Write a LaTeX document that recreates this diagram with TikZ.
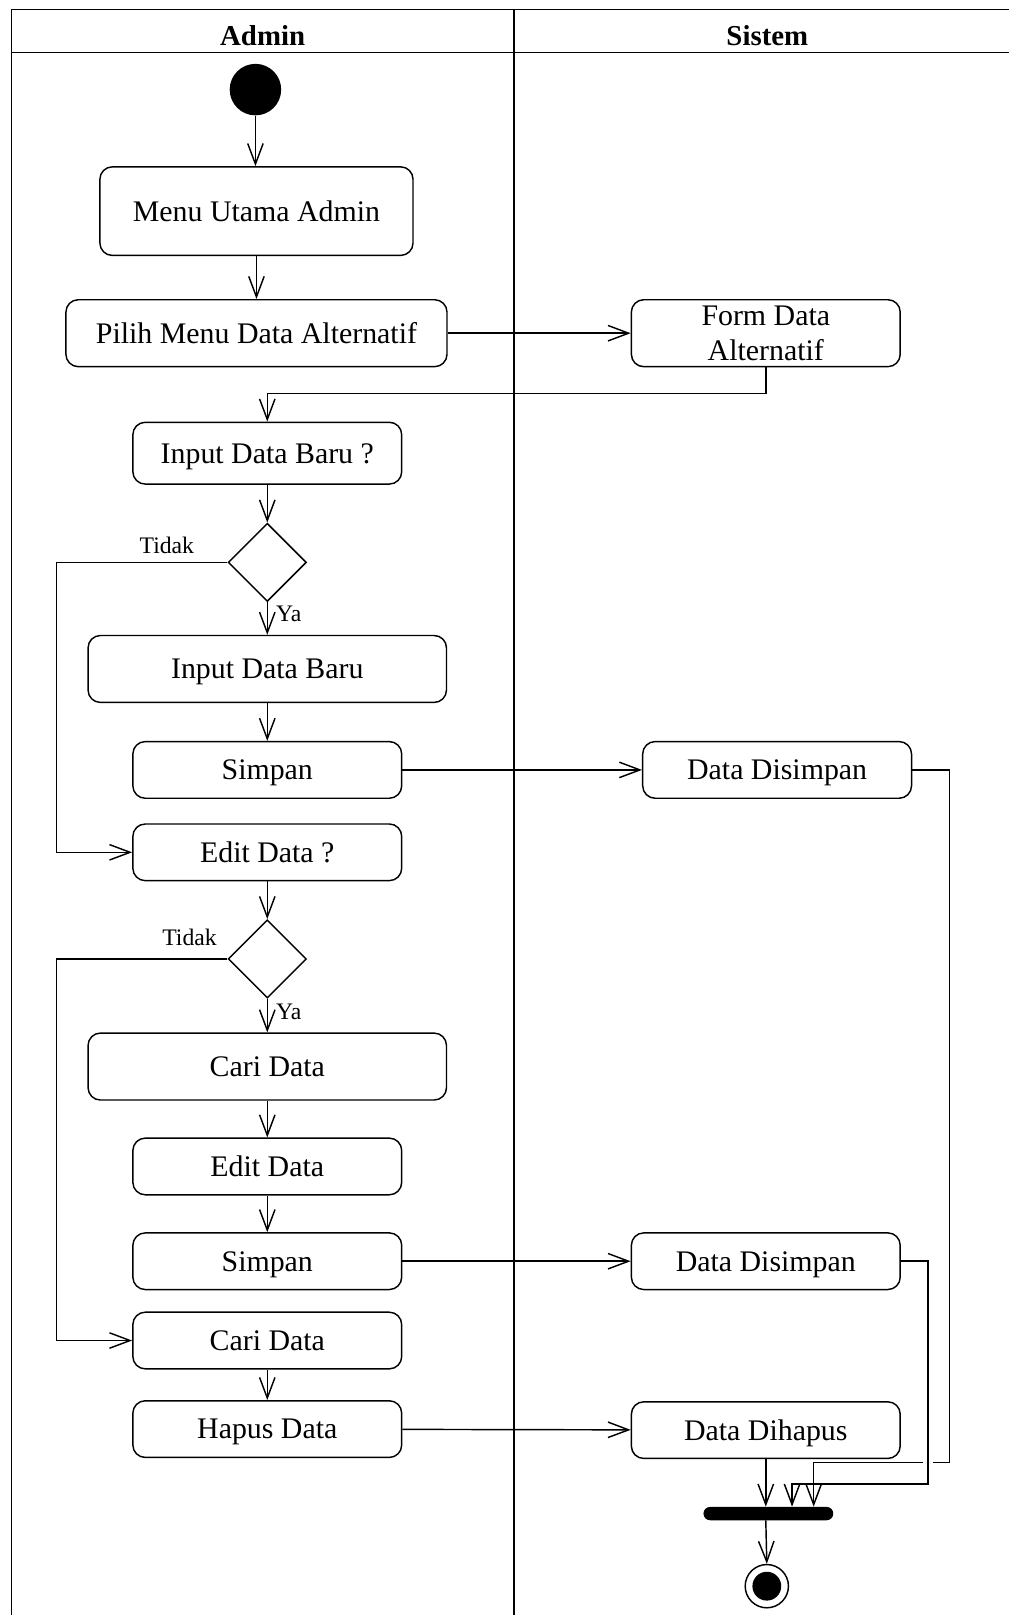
\documentclass[tikz,border=0pt]{standalone}
\usepackage{fontspec}
\setmainfont{Liberation Serif}
\usetikzlibrary{arrows.meta,shapes.geometric}
\begin{document}
\begin{tikzpicture}[x=1pt,y=-1pt,
  act/.style={draw,rounded corners=12pt,line width=1.4pt,inner sep=0pt,align=center,text depth=0pt,font=\fontsize{29}{34}\selectfont},
  arr/.style={line width=1.4pt,-{Straight Barb[length=20pt,width=15pt,line width=1.4pt]}},
  ln/.style={line width=1.4pt},
  lbl/.style={font=\fontsize{23}{26}\selectfont,inner sep=0pt},
  hdr/.style={font=\fontsize{28}{32}\selectfont\bfseries,inner sep=0pt},
  dec/.style={draw,diamond,line width=1.4pt,minimum width=76pt,minimum height=76pt,inner sep=0pt}]
\useasboundingbox (0,0) rectangle (979,1568);
% frame
\draw[ln] (11,1575) -- (11,9) -- (985,9);
\draw[ln] (11,51) -- (985,51);
\draw[ln] (499,9) -- (499,1575);
\node[hdr] (hA) at (255,35) {Admin};
\node[hdr] (hS) at (745,35) {Sistem};
% nodes
\node[circle,fill,minimum size=50pt,inner sep=0pt] (start) at (248,87) {};
\node[act,minimum width=304pt,minimum height=86pt] (menu) at (249,205) {Menu Utama Admin};
\node[act,minimum width=370pt,minimum height=65pt] (pilih) at (249,323.5) {Pilih Menu Data Alternatif};
\node[act,minimum width=261pt,minimum height=65pt] (form) at (743.5,323.5) {Form Data\\Alternatif};
\node[act,minimum width=261pt,minimum height=60pt] (inputq) at (259.5,440) {Input Data Baru ?};
\node[dec] (d1) at (259.5,546) {};
\node[act,minimum width=348pt,minimum height=65pt] (inputb) at (259.5,649.5) {Input Data Baru};
\node[act,minimum width=261pt,minimum height=55pt] (simpan1) at (259.5,747.5) {Simpan};
\node[act,minimum width=261pt,minimum height=55pt] (dis1) at (754.5,747.5) {Data Disimpan};
\node[act,minimum width=261pt,minimum height=55pt] (editq) at (259.5,827.5) {Edit Data ?};
\node[dec] (d2) at (259.5,931) {};
\node[act,minimum width=348pt,minimum height=65pt] (cari1) at (259.5,1035.5) {Cari Data};
\node[act,minimum width=261pt,minimum height=55pt] (edit) at (259.5,1132.5) {Edit Data};
\node[act,minimum width=261pt,minimum height=55pt] (simpan2) at (259.5,1224.5) {Simpan};
\node[act,minimum width=261pt,minimum height=55pt] (dis2) at (743.5,1224.5) {Data Disimpan};
\node[act,minimum width=261pt,minimum height=55pt] (cari2) at (259.5,1301.5) {Cari Data};
\node[act,minimum width=261pt,minimum height=55pt] (hapus) at (259.5,1387.5) {Hapus Data};
\node[act,minimum width=261pt,minimum height=55pt] (dih) at (743.5,1388.5) {Data Dihapus};
\node[fill,rounded corners=6.5pt,minimum width=126pt,minimum height=13pt,inner sep=0pt] (bar) at (746,1469.5) {};
\node[circle,draw,line width=1.4pt,minimum size=42pt,inner sep=0pt] (end) at (744.5,1540) {};
\node[circle,fill,minimum size=28pt,inner sep=0pt] (endin) at (end.center) {};
% labels
\node[lbl,anchor=west] (ya1) at (268,596) {Ya};
\node[lbl] (td1) at (162,530) {Tidak};
\node[lbl,anchor=west] (ya2) at (268,982) {Ya};
\node[lbl] (td2) at (184,910) {Tidak};
% connectors
\draw[arr] (start.south) -- (start.south |- menu.north);
\draw[arr] (menu) -- (pilih);
\draw[arr] (pilih) -- (form);
\coordinate (c1) at (743.5,382);
\draw[arr] (form.south) -- (c1) -| (inputq.north);
\draw[arr] (inputq) -- (d1);
\draw[arr] (d1.south) -- (inputb.north);
\coordinate (t1) at (55,546);
\draw[arr] (d1.west) -- (t1) |- (editq.west);
\draw[arr] (inputb) -- (simpan1);
\draw[arr] (simpan1) -- (dis1);
\draw[arr] (editq) -- (d2);
\draw[arr] (d2.south) -- (cari1.north);
\coordinate (t2) at (55,931);
\draw[arr] (d2.west) -- (t2) |- (cari2.west);
\draw[arr] (cari1) -- (edit);
\draw[arr] (edit) -- (simpan2);
\draw[arr] (simpan2) -- (dis2);
\draw[arr] (cari2) -- (hapus);
\draw[arr] (hapus) -- (dih);
\coordinate (o1) at (922,747.5);
\coordinate (o2) at (922,1420);
\coordinate (o3) at (790,1420);
\draw[arr] (dis1.east) -- (o1) -- (o2) -- (o3) -- (o3 |- bar.north);
\coordinate (i1) at (901,1224.5);
\coordinate (i2) at (901,1441);
\coordinate (i3) at (769,1441);
\draw[white,line width=9pt] (901,1414) -- (901,1426);
\draw[arr] (dis2.east) -- (i1) -- (i2) -- (i3) -- (i3 |- bar.north);
\draw[arr] (dih.south) -- (dih.south |- bar.north);
\draw[arr] (bar.south -| dih.south) -- (end.north);
\end{tikzpicture}
\end{document}
